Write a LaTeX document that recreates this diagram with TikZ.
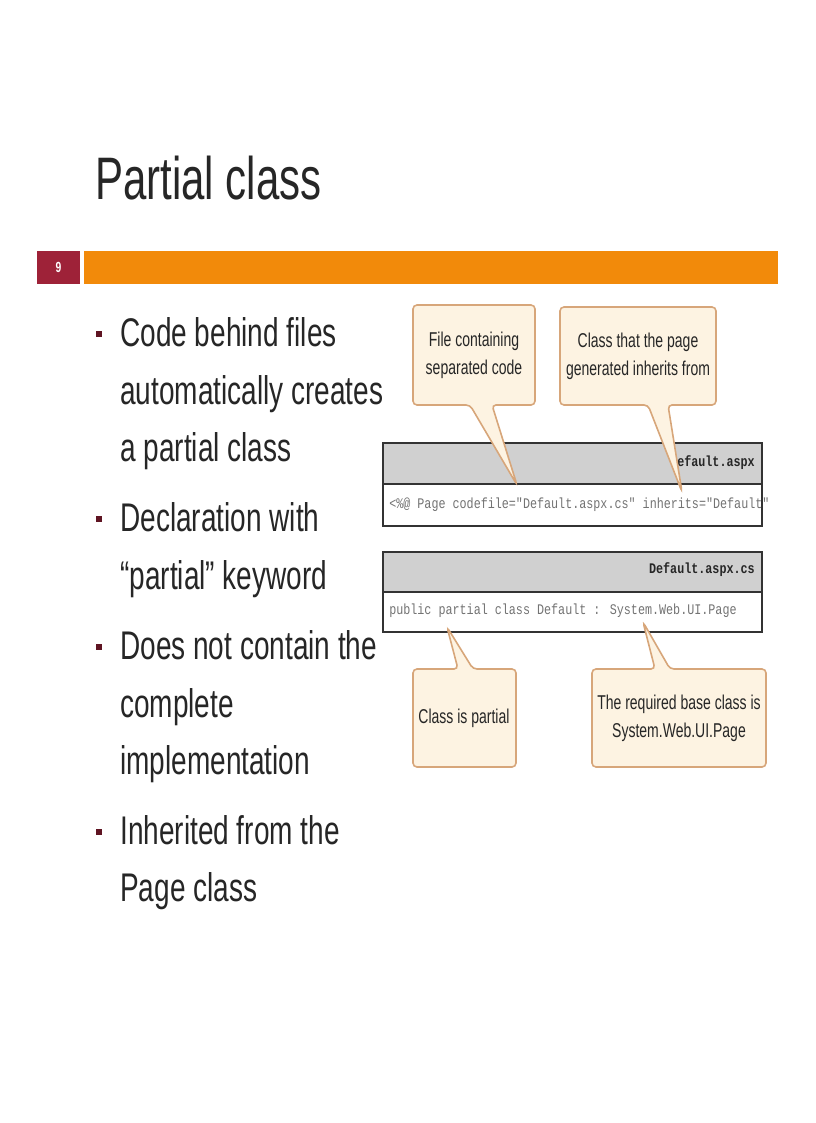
\documentclass[tikz,border=0pt]{standalone}
\usepackage{fontspec}
\setmainfont{Liberation Sans}
\newfontfamily\cond[FakeStretch=0.7]{Liberation Sans}
\newfontfamily\condm[FakeStretch=0.8]{Liberation Mono}
\definecolor{orng}{HTML}{F28A0A}
\definecolor{darkred}{HTML}{9E2238}
\definecolor{cfill}{HTML}{FDF3E2}
\definecolor{cline}{HTML}{D7A67A}
\definecolor{hdr}{HTML}{D0D0D0}
\tikzset{
 bul/.style={anchor=base west,font=\cond\fontsize{30}{30}\selectfont,text=black!85,inner sep=0},
 sq/.style={fill=darkred!60!black,minimum size=4.5pt,inner sep=0},
 callout/.style={draw=cline,fill=cfill,line width=1.2pt,rounded corners=3pt},
 ctext/.style={align=center,font=\cond\fontsize{15}{21}\selectfont,text=black!85},
 code/.style={font=\condm\fontsize{11}{11}\selectfont,text=black!55,anchor=west,inner sep=0},
 hdrtext/.style={font=\condm\bfseries\fontsize{11}{11}\selectfont,text=black!85,anchor=east,inner sep=0},
 panel/.style={draw=black!80,line width=1pt}
}
\begin{document}
\begin{tikzpicture}[x=0.75pt,y=-0.75pt]
\useasboundingbox (0,0) rectangle (816,1123);
\node[anchor=base west,inner sep=0,font=\cond\fontsize{45}{45}\selectfont,text=black!85] (title) at (95,200) {Partial class};
\fill[darkred] (37,251) rectangle (80,284);
\node[text=white,font=\cond\bfseries\fontsize{11}{11}\selectfont] (num) at (58.5,267) {9};
\fill[orng] (84,251) rectangle (778,284);
% bullets
\foreach \y in {334,519,647,832} \node[sq] at (99,\y) {};
\node[bul] (b1) at (120,346) {Code behind files};
\node[bul] at (120,404) {automatically creates};
\node[bul] at (120,461) {a partial class};
\node[bul] (b2) at (120,531) {Declaration with};
\node[bul] at (120,589) {“partial” keyword};
\node[bul] (b3) at (120,659) {Does not contain the};
\node[bul] at (120,717) {complete};
\node[bul] at (120,774) {implementation};
\node[bul] (b4) at (120,844) {Inherited from the};
\node[bul] at (120,901) {Page class};
% panels
\draw[panel,fill=hdr] (383,443) rectangle (762,484);
\draw[panel,fill=white] (383,484) rectangle (762,526);
\node[hdrtext] (h1) at (755,463) {Default.aspx};
\node[code] (c1) at (389,505) {<\%@ Page codefile="Default.aspx.cs" inherits="Default"};
\draw[panel,fill=hdr] (383,552) rectangle (762,592);
\draw[panel,fill=white] (383,592) rectangle (762,632);
\node[hdrtext] (h2) at (755,570) {Default.aspx.cs};
\node[code] (c2) at (389,611) {public partial class Default : System.Web.UI.Page};
\coordinate (t1) at (517,485);
\coordinate (t2) at (682,492);
\coordinate (t3) at (447,627);
\coordinate (t4) at (643,622);
% callouts
\draw[callout] (413,305) -- (535,305) -- (535,405) -- (492,405) -- (t1) -- (470,405) -- (413,405) -- cycle;
\node[ctext] (k1) at (474,355) {File containing\\separated code};
\draw[callout] (560,307) -- (716,307) -- (716,405) -- (668,405) -- (t2) -- (648,405) -- (560,405) -- cycle;
\node[ctext] (k2) at (638,356) {Class that the page\\generated inherits from};
\draw[callout] (413,669) -- (458,669) -- (t3) -- (473,669) -- (516,669) -- (516,767) -- (413,767) -- cycle;
\node[ctext] (k3) at (464,718) {Class is partial};
\draw[callout] (592,669) -- (655,669) -- (t4) -- (670,669) -- (766,669) -- (766,767) -- (592,767) -- cycle;
\node[ctext] (k4) at (679,718) {The required base class is\\System.Web.UI.Page};
\end{tikzpicture}
\end{document}
